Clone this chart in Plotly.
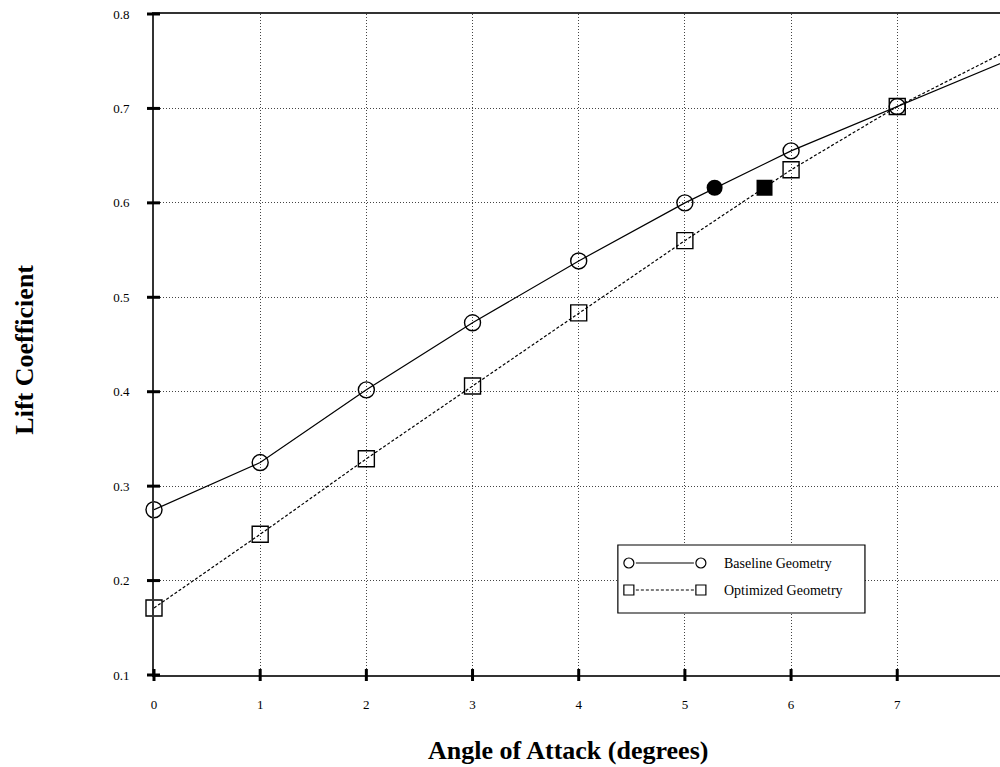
import plotly.graph_objects as go

# Lift coefficient vs angle of attack for two airfoil geometries
alpha = [0, 1, 2, 3, 4, 5, 6, 7, 8]
cl_baseline = [0.275, 0.325, 0.402, 0.473, 0.5385, 0.600, 0.655, 0.702, 0.749]
cl_optimized = [0.171, 0.249, 0.329, 0.406, 0.4835, 0.560, 0.635, 0.702, 0.759]

# Highlighted design points
design_baseline_x = [5.28]
design_baseline_y = [0.616]
design_optimized_x = [5.75]
design_optimized_y = [0.616]

x_ticks = [0, 1, 2, 3, 4, 5, 6, 7]
y_ticks = [0.1, 0.2, 0.3, 0.4, 0.5, 0.6, 0.7, 0.8]

W, H = 1000, 767
L, R, T, B = 154.3, 0, 14, 92
PW, PH = W - L - R, H - T - B
X_UNIT = 106.14  # pixels per degree
x_max = PW / X_UNIT
y_min, y_max = 0.1, 0.8

SERIF = "Liberation Serif, Times New Roman, serif"


def px(xp):
    return (xp - L) / PW


def py(yp):
    return (H - B - yp) / PH


fig = go.Figure()

fig.add_trace(go.Scatter(
    x=alpha, y=cl_baseline, mode="lines+markers", name="Baseline Geometry",
    line=dict(color="black", width=1.2),
    marker=dict(symbol="circle-open", size=16, color="black", line=dict(width=1.4)),
    cliponaxis=False, showlegend=False))

fig.add_trace(go.Scatter(
    x=alpha, y=cl_optimized, mode="lines+markers", name="Optimized Geometry",
    line=dict(color="black", width=1.2, dash="3px,2px"),
    marker=dict(symbol="square-open", size=16, color="black", line=dict(width=1.4)),
    cliponaxis=False, showlegend=False))

fig.add_trace(go.Scatter(
    x=design_baseline_x, y=design_baseline_y, mode="markers",
    marker=dict(symbol="circle", size=16, color="black"),
    showlegend=False))

fig.add_trace(go.Scatter(
    x=design_optimized_x, y=design_optimized_y, mode="markers",
    marker=dict(symbol="square", size=16, color="black"),
    showlegend=False))

shapes = []
# Tick marks crossing the axes
for xv in x_ticks:
    xf = xv / x_max
    shapes.append(dict(type="line", xref="paper", yref="paper",
                       x0=xf, x1=xf, y0=-6 / PH, y1=6 / PH,
                       line=dict(color="black", width=3), layer="above"))
for yv in y_ticks:
    yf = (yv - y_min) / (y_max - y_min)
    shapes.append(dict(type="line", xref="paper", yref="paper",
                       x0=-7 / PW, x1=6 / PW, y0=yf, y1=yf,
                       line=dict(color="black", width=3), layer="above"))

# Legend box
shapes.append(dict(type="rect", xref="paper", yref="paper",
                   x0=px(618), x1=px(865), y0=py(613), y1=py(545),
                   line=dict(color="black", width=1.2), fillcolor="white", layer="above"))
rows = [(563, "solid", "circle", "Baseline Geometry"),
        (590, "3px,2px", "rect", "Optimized Geometry")]
annotations = []
for yrow, dash, sym, label in rows:
    shapes.append(dict(type="line", xref="paper", yref="paper",
                       x0=px(636), x1=px(694), y0=py(yrow), y1=py(yrow),
                       line=dict(color="black", width=1.2, dash=dash), layer="above"))
    for xc in (629, 701):
        shapes.append(dict(type=sym, xref="paper", yref="paper",
                           x0=px(xc - 5), x1=px(xc + 5),
                           y0=py(yrow + 5), y1=py(yrow - 5),
                           line=dict(color="black", width=1.2), fillcolor="white",
                           layer="above"))
    annotations.append(dict(xref="paper", yref="paper", x=px(722), y=py(yrow),
                            text=label, showarrow=False, xanchor="left",
                            yanchor="middle",
                            font=dict(family=SERIF, size=14, color="black")))

# Axis titles
annotations.append(dict(xref="paper", yref="paper", x=px(568), y=py(750),
                        text="<b>Angle of Attack (degrees)</b>", showarrow=False,
                        xanchor="center", yanchor="middle",
                        font=dict(family=SERIF, size=26, color="black")))
annotations.append(dict(xref="paper", yref="paper", x=px(24), y=py(350),
                        text="<b>Lift Coefficient</b>", showarrow=False, textangle=-90,
                        xanchor="center", yanchor="middle",
                        font=dict(family=SERIF, size=26, color="black")))

fig.update_layout(
    width=W, height=H,
    margin=dict(l=L, r=R, t=T, b=B, pad=0),
    plot_bgcolor="white", paper_bgcolor="white",
    shapes=shapes, annotations=annotations,
    font=dict(family=SERIF, size=12, color="black"),
)

fig.update_xaxes(
    range=[0, x_max], tickvals=x_ticks, ticktext=[str(v) for v in x_ticks],
    showgrid=True, gridcolor="#444", gridwidth=1, griddash="1px,2px",
    showline=True, linecolor="#333", linewidth=2, mirror=True,
    ticks="", zeroline=False, ticklabelstandoff=16,
    tickfont=dict(family=SERIF, size=13, color="black"))

fig.update_yaxes(
    range=[y_min, y_max], tickvals=y_ticks, ticktext=[f"{v:.1f}" for v in y_ticks],
    showgrid=True, gridcolor="#444", gridwidth=1, griddash="1px,2px",
    showline=True, linecolor="#333", linewidth=2, mirror=False,
    ticks="", zeroline=False, ticklabelstandoff=20,
    tickfont=dict(family=SERIF, size=13, color="black"))

fig.write_html("out.html")
